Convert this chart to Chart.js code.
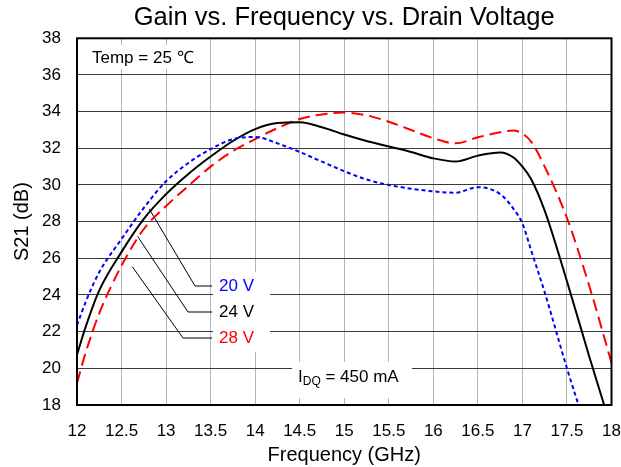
<!DOCTYPE html>
<html>
<head>
<meta charset="utf-8">
<script src="https://cdn.jsdelivr.net/npm/chart.js@4"></script>
<style>
  html, body { margin: 0; padding: 0; background: #fff; }
  #wrap { width: 621px; height: 467px; }
</style>
</head>
<body>
<div id="wrap"><canvas id="chart" width="621" height="467"></canvas></div>
<script>
'use strict';

// ── Data ────────────────────────────────────────────────────────────────────

var FREQ = [12, 12.1, 12.25, 12.5, 12.75, 13, 13.25, 13.5, 13.75, 14, 14.25, 14.5, 14.75,
            15, 15.25, 15.5, 15.75, 16, 16.25, 16.5, 16.75, 16.9, 17, 17.1, 17.25, 17.5, 17.75, 18];

var S21_20V = [22.35, 23.65, 25.25, 27.05, 28.75, 30.2, 31.2, 31.95, 32.5, 32.62, 32.27, 31.8, 31.27,
               30.75, 30.3, 30.0, 29.8, 29.65, 29.58, 29.88, 29.5, 28.7, 27.9, 26.4, 24.15, 20.0, 16.2, null];

var S21_24V = [20.75, 22.3, 24.25, 26.35, 28.15, 29.5, 30.6, 31.55, 32.4, 33.05, 33.38, 33.42, 33.15,
               32.75, 32.4, 32.1, 31.8, 31.45, 31.28, 31.6, 31.77, 31.5, 31.0, 30.3, 28.6, 24.75, 20.65, 16.7];

var S21_28V = [19.2, 20.9, 23.0, 25.6, 27.6, 28.85, 29.95, 31.0, 31.85, 32.5, 33.1, 33.6, 33.85,
               33.95, 33.8, 33.45, 33.0, 32.55, 32.27, 32.6, 32.87, 32.97, 32.8, 32.35, 31.0, 28.2, 24.5, 20.3];

var X_MIN = 12, X_MAX = 18, X_STEP = 0.5;
var Y_MIN = 18, Y_MAX = 38, Y_STEP = 2;

var SERIES_LABELS = ['20 V', '24 V', '28 V'];
var SERIES_COLORS = ['#0000ff', '#000000', '#ff0000'];

// where each leader line leaves its curve (frequency, dB)
var LEADER_FROM = [[12.81, 28.7], [12.68, 27.2], [12.62, 25.55]];

var TITLE = 'Gain vs. Frequency vs. Drain Voltage';
var FONT = '"Liberation Sans", Arial, Helvetica, sans-serif';

function pairs(xs, ys) {
  return xs.map(function (x, i) { return { x: x, y: ys[i] }; });
}

// ── Annotations: title, labels, leader lines, plot frame ─────────────────────

var annotations = {
  id: 'annotations',
  beforeDatasetsDraw: function (chart) {
    var ctx = chart.ctx;
    var a = chart.chartArea;
    var xs = chart.scales.x, ys = chart.scales.y;
    ctx.save();

    // title, centred over the plot area
    ctx.fillStyle = '#000';
    ctx.font = '25.5px ' + FONT;
    ctx.textAlign = 'center';
    ctx.textBaseline = 'middle';
    ctx.fillText(TITLE, (a.left + a.right) / 2, 18);

    // white boxes behind the text
    ctx.fillStyle = '#fff';
    ctx.fillRect(83, 45, 122, 24);
    ctx.fillRect(213, 272, 57, 80);
    ctx.fillRect(292, 362, 120, 36);

    ctx.textAlign = 'left';
    ctx.font = '17px ' + FONT;
    ctx.fillStyle = '#000';
    ctx.fillText('Temp = 25 \u2103', 92, 58);

    // I_DQ = 450 mA
    ctx.fillText('I', 298, 377);
    var w = ctx.measureText('I').width;
    ctx.font = '12px ' + FONT;
    ctx.fillText('DQ', 298 + w, 382);
    var w2 = ctx.measureText('DQ').width;
    ctx.font = '17px ' + FONT;
    ctx.fillText(' = 450 mA', 298 + w + w2, 377);

    // series labels with leader lines
    var rowY = [286, 312, 338];
    var kneeX = [195, 188, 183];
    ctx.lineWidth = 1;
    ctx.strokeStyle = '#000';
    for (var i = 0; i < 3; i++) {
      var sx = xs.getPixelForValue(LEADER_FROM[i][0]);
      var sy = ys.getPixelForValue(LEADER_FROM[i][1]);
      ctx.beginPath();
      ctx.moveTo(sx, sy);
      ctx.lineTo(kneeX[i], rowY[i]);
      ctx.lineTo(212, rowY[i]);
      ctx.stroke();

      ctx.fillStyle = SERIES_COLORS[i];
      ctx.fillText(SERIES_LABELS[i], 219, rowY[i]);
    }
    ctx.restore();
  },
  afterDraw: function (chart) {
    var a = chart.chartArea;
    var ctx = chart.ctx;
    ctx.save();
    ctx.strokeStyle = '#000';
    ctx.lineWidth = 2;
    ctx.strokeRect(a.left, a.top, a.right - a.left, a.bottom - a.top);
    ctx.restore();
  }
};

// ── Chart ────────────────────────────────────────────────────────────────────

var DATA = [S21_20V, S21_24V, S21_28V];
var DASHES = [[4, 3], [], [12, 6]];

new Chart(document.getElementById('chart'), {
  type: 'line',
  data: {
    datasets: DATA.map(function (ys, i) {
      return {
        label: SERIES_LABELS[i],
        data: pairs(FREQ, ys),
        borderColor: SERIES_COLORS[i],
        borderWidth: 2,
        borderDash: DASHES[i],
        pointRadius: 0,
        fill: false,
        cubicInterpolationMode: 'monotone',
        spanGaps: false
      };
    })
  },
  options: {
    responsive: false,
    animation: false,
    events: [],
    layout: { padding: { left: 0, right: 9.5, top: 38.3, bottom: 0 } },
    scales: {
      x: {
        type: 'linear',
        min: X_MIN,
        max: X_MAX,
        ticks: {
          stepSize: X_STEP,
          padding: 16,
          color: '#000',
          font: { family: FONT, size: 17 },
          maxRotation: 0,
          autoSkip: false,
          callback: function (v) { return String(v); }
        },
        grid: { color: '#b4b4b4', lineWidth: 1, drawTicks: false },
        border: { display: false },
        title: {
          display: true,
          text: 'Frequency (GHz)',
          color: '#000',
          font: { family: FONT, size: 20 },
          padding: { top: 0, bottom: 0 }
        },
        afterFit: function (scale) {
          scale.height = 62;
          scale.paddingLeft = 0;
          scale.paddingRight = 0;
        }
      },
      y: {
        min: Y_MIN,
        max: Y_MAX,
        ticks: {
          stepSize: Y_STEP,
          padding: 16,
          color: '#000',
          font: { family: FONT, size: 17 }
        },
        grid: { color: '#3a3a3a', lineWidth: 1, drawTicks: false },
        border: { display: false },
        title: {
          display: true,
          text: 'S21 (dB)',
          color: '#000',
          font: { family: FONT, size: 20 },
          padding: { top: 10, bottom: 0 }
        },
        afterFit: function (scale) {
          scale.width = 77;
          scale.paddingTop = 0;
          scale.paddingBottom = 0;
        }
      }
    },
    plugins: {
      legend: { display: false },
      tooltip: { enabled: false },
      title: { display: false }
    }
  },
  plugins: [annotations]
});
</script>
</body>
</html>
